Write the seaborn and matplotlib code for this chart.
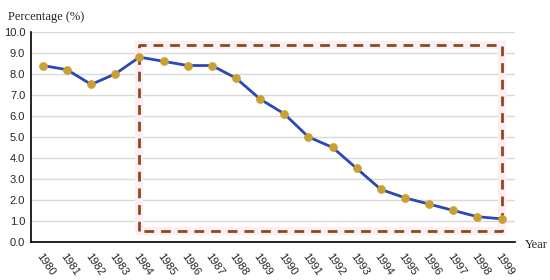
import pandas as pd
import seaborn as sns
import matplotlib.pyplot as plt

# values
years = list(range(1980, 2000))
pct = [8.4, 8.2, 7.5, 8.0, 8.8, 8.6, 8.4, 8.4, 7.8, 6.8,
       6.1, 5.0, 4.5, 3.5, 2.5, 2.1, 1.8, 1.5, 1.2, 1.1]
yticks = [0.0, 1.0, 2.0, 3.0, 4.0, 5.0, 6.0, 7.0, 8.0, 9.0, 10.0]

# highlighted period box
box_x = [1984, 1999]
box_y = [0.5, 9.4]

df = pd.DataFrame({'Year': years, 'Percentage': pct})

sns.set_style('white')
fig = plt.figure(figsize=(5.5, 2.8), dpi=100)
ax = fig.add_axes([0.056, 0.136, 0.88, 0.75])

# grid
for v in yticks[1:]:
    ax.axhline(v, color='#d9d9d9', lw=1, zorder=0)

# dashed box with pale pink halo
bx = [box_x[0], box_x[0], box_x[1], box_x[1], box_x[0]]
by = [box_y[0], box_y[1], box_y[1], box_y[0], box_y[0]]
ax.plot(bx, by, color='#fdeef4', lw=6, zorder=1, solid_joinstyle='miter')
ax.plot(bx, by, color='#8b4a1e', lw=2, ls=(0, (3.5, 2.5)), zorder=2)

sns.lineplot(data=df, x='Year', y='Percentage', ax=ax, color='#2b47b8',
             lw=2, marker='o', markersize=5.5, markerfacecolor='#c9a032',
             markeredgecolor='#c9a032', zorder=3)

ax.set_xlim(1979.5, 1999.55)
ax.set_ylim(0, 10)
ax.set_xticks(years)
ax.set_xticklabels([str(y) for y in years], rotation=-55, ha='left',
                   rotation_mode='anchor', fontsize=8, family='Liberation Sans')
ax.set_yticks(yticks)
ax.set_yticklabels([f'{v:.1f}' for v in yticks], fontsize=8,
                   family='Liberation Sans')
ax.tick_params(axis='x', direction='out', length=4, width=1, color='black', pad=3)
ax.tick_params(axis='y', length=0, pad=4)

for s in ['top', 'right']:
    ax.spines[s].set_visible(False)
for s in ['left', 'bottom']:
    ax.spines[s].set_color('black')
    ax.spines[s].set_linewidth(1.2)

ax.set_xlabel('')
ax.set_ylabel('')
fig.text(0.015, 0.96, 'Percentage (%)', fontsize=9, family='Liberation Serif',
         va='top', ha='left')
fig.text(0.955, 0.125, 'Year', fontsize=9, family='Liberation Serif',
         va='center', ha='left')

fig.savefig('out.png', dpi=100)
